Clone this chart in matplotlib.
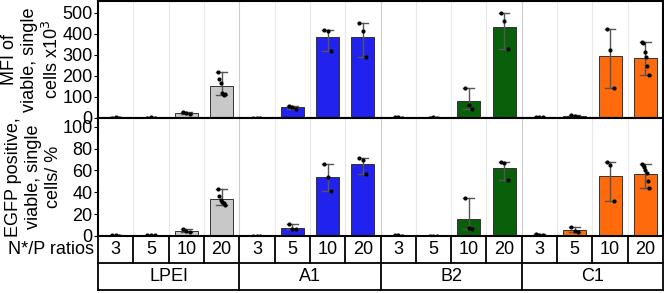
import matplotlib
matplotlib.use("Agg")
import matplotlib.pyplot as plt
import numpy as np

groups = ["LPEI", "A1", "B2", "C1"]
ratios = ["3", "5", "10", "20"]
group_colors = ["#c8c8c8", "#2222ee", "#0a5f0a", "#ff6a0d"]

mfi_means = [2, 2, 22, 150, 1, 50, 383, 384, 3, 2, 82, 430, 5, 8, 293, 284]
mfi_points = [
    [2, 3, 1], [2, 3, 2], [30, 24, 18], [216, 187, 168, 117, 110, 115],
    [1, 2, 1], [58, 50, 45], [418, 414, 317], [452, 413, 288],
    [4, 3, 2], [2, 3, 2], [140, 63, 43], [500, 462, 327],
    [7, 5, 3], [12, 8, 5], [423, 322, 144], [360, 355, 313, 289, 245, 202],
]

egfp_means = [0.5, 0.5, 4.6, 34, 0.3, 7.5, 54, 66, 0.5, 0.3, 16, 62, 1, 5.5, 55, 57]
egfp_points = [
    [0.6, 0.5, 0.4], [0.6, 0.5, 0.5], [6, 4.5, 4], [43, 37, 33, 31, 30, 28],
    [0.4, 0.3, 0.2], [11, 6.5, 6], [66, 54, 41], [71, 70, 57],
    [0.7, 0.5, 0.3], [0.4, 0.3, 0.2], [35, 7, 6], [68, 67, 51],
    [1.5, 1, 0.8], [8, 5, 4], [68, 65, 32], [66, 65, 63, 60, 58, 50, 44],
]

W, H = 664, 293
fig = plt.figure(figsize=(W / 100, H / 100), dpi=100)
plt.rcParams['font.family'] = ['Liberation Sans', 'DejaVu Sans']

def px_axes(x0, y0, x1, y1):
    return fig.add_axes([x0 / W, 1 - y1 / H, (x1 - x0) / W, (y1 - y0) / H])

n = len(groups) * len(ratios)
x = np.arange(n)
colors = [c for c in group_colors for _ in ratios]

def panel(ax, means, points, ylim, yticks, ylabel):
    for b in np.arange(0.5, n - 0.5, 1):
        major = (b + 0.5) % len(ratios) == 0
        ax.axvline(b, color="#cccccc" if major else "#e8e8e8", lw=0.8, zorder=0)
    ax.bar(x, means, width=0.65, color=colors, edgecolor="#333333", lw=0.7, zorder=2)
    for i, pts in enumerate(points):
        lo, hi = min(pts), max(pts)
        ax.plot([i, i], [lo, hi], color="#555555", lw=1.0, zorder=3)
        for yy in (lo, hi):
            ax.plot([i - 0.15, i + 0.15], [yy, yy], color="#555555", lw=1.0, zorder=3)
        offs = np.linspace(-0.1, 0.1, len(pts))
        ax.scatter(i + offs, pts, s=9, color="black", zorder=4, lw=0)
    ax.set_xlim(-0.5, n - 0.5)
    ax.set_ylim(*ylim)
    ax.set_yticks(yticks)
    ax.set_xticks([])
    ax.tick_params(axis="y", labelsize=13, length=3, width=0.8, pad=1)
    for s in ax.spines.values():
        s.set_linewidth(1.5)
    ax.set_ylabel(ylabel, fontsize=13, linespacing=1.25)
    ax.yaxis.set_label_coords(-0.063, 0.5)

ax1 = px_axes(98, 1, 663, 118)
panel(ax1, mfi_means, mfi_points, (0, 555), range(0, 501, 100),
      "MFI of\nviable, single\ncells x10$^3$")
ax2 = px_axes(98, 118, 663, 236)
panel(ax2, egfp_means, egfp_points, (0, 108), range(0, 101, 20),
      "EGFP positive,\nviable, single\ncells/ %")

# table below the panels
axt = px_axes(98, 236, 663, 290)
axt.set_xlim(-0.5, n - 0.5)
axt.set_ylim(0, 2)
axt.axis("off")
lw = 1.3
for yy in (0, 1, 2):
    axt.plot([-0.5, n - 0.5], [yy, yy], color="black", lw=lw, clip_on=False)
for b in np.arange(-0.5, n, 1):
    if (b + 0.5) % len(ratios) == 0:
        axt.plot([b, b], [0, 2], color="black", lw=lw, clip_on=False)
    else:
        axt.plot([b, b], [1, 2], color="black", lw=lw, clip_on=False)
for i in range(n):
    axt.text(i, 1.5, ratios[i % len(ratios)], ha="center", va="center", fontsize=13)
for g, name in enumerate(groups):
    axt.text(g * len(ratios) + 1.5, 0.5, name, ha="center", va="center", fontsize=13)
axt.text(-0.6, 1.5, "N*/P ratios", ha="right", va="center", fontsize=13)

fig.savefig("out.png", dpi=100)
